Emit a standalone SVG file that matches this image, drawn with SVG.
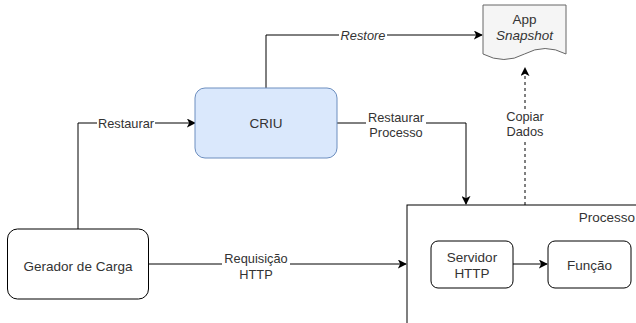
<svg xmlns="http://www.w3.org/2000/svg" width="636" height="323" viewBox="0 0 636 323">
<defs>
<marker id="arr" viewBox="0 0 10 10" refX="9" refY="5" markerWidth="9" markerHeight="9" markerUnits="userSpaceOnUse" orient="auto">
<path d="M0,0 L10,5 L0,10 L2.5,5 Z" fill="#000"/>
</marker>
<style>
text{font-family:"Liberation Sans",Arial,sans-serif;font-size:13.5px;fill:#333;text-anchor:middle}
.lbl{font-size:12.8px;fill:#333}
.edge{fill:none;stroke:#000;stroke-width:1}
.box{fill:#fff;stroke:#000;stroke-width:1}
</style>
</defs>
<rect width="636" height="323" fill="#fff"/>
<g id="processo">
<rect class="box" x="407" y="205" width="240" height="130"/>
<text x="635" y="222" style="text-anchor:end">Processo</text>
</g>
<g id="connectors">
<path class="edge" d="M78,229 V123 H195" marker-end="url(#arr)"/>
<rect x="97" y="116" width="58" height="15" fill="#fff"/>
<text class="lbl" x="126" y="127.5">Restaurar</text>
<path class="edge" d="M266,88 V35 H482" marker-end="url(#arr)"/>
<rect x="339" y="28" width="48" height="15" fill="#fff"/>
<text class="lbl" x="363" y="40" font-style="italic">Restore</text>
<path class="edge" d="M337,123 H466 V204" marker-end="url(#arr)"/>
<rect x="366" y="110" width="60" height="30" fill="#fff"/>
<text class="lbl" x="396" y="121.5">Restaurar</text>
<text class="lbl" x="396" y="136.5">Processo</text>
<path class="edge" d="M525,205 V68" stroke-dasharray="3,3" marker-end="url(#arr)"/>
<rect x="504" y="109" width="42" height="30" fill="#fff"/>
<text class="lbl" x="525" y="120.5">Copiar</text>
<text class="lbl" x="525" y="135.5">Dados</text>
<path class="edge" d="M148,264 H406" marker-end="url(#arr)"/>
<rect x="222" y="251" width="68" height="30" fill="#fff"/>
<text class="lbl" x="256" y="262.5">Requisição</text>
<text class="lbl" x="256" y="278.5">HTTP</text>
<path class="edge" d="M513,264 H547" marker-end="url(#arr)"/>
</g>
<g id="criu">
<rect x="195" y="88" width="142" height="70" rx="10" fill="#dae8fc" stroke="#6c8ebf"/>
<text x="266" y="128">CRIU</text>
</g>
<g id="gerador">
<rect class="box" x="7.5" y="229" width="141" height="70" rx="10"/>
<text x="78" y="271">Gerador de Carga</text>
</g>
<g id="snapshot">
<path d="M483,5 H566 V54 Q545,43 524.5,54 Q504,65 483,54 Z" fill="#f5f5f5" stroke="#666"/>
<text x="524.5" y="24">App</text>
<text x="524.5" y="40" font-style="italic">Snapshot</text>
</g>
<g id="servidor">
<rect class="box" x="431" y="241" width="82" height="47" rx="7"/>
<text x="472" y="262">Servidor</text>
<text x="472" y="278">HTTP</text>
</g>
<g id="funcao">
<rect class="box" x="548" y="241" width="83" height="47" rx="7"/>
<text x="589.5" y="270">Função</text>
</g>
</svg>
